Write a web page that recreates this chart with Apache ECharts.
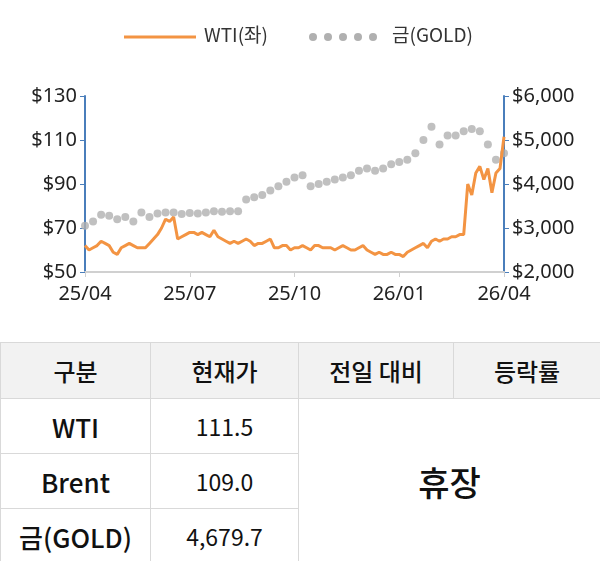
<!DOCTYPE html>
<html><head><meta charset="utf-8">
<script src="https://cdn.jsdelivr.net/npm/echarts@6/dist/echarts.min.js"></script>
<style>
body{margin:0;width:600px;height:561px;background:#fff;font-family:"Noto Sans CJK KR","Noto Sans",sans-serif;overflow:hidden}
#c{width:600px;height:330px}
table{position:absolute;top:342px;left:0;width:600px;border-collapse:collapse;table-layout:fixed}
td,th{border:1.5px solid #d9d9d9;text-align:center;color:#111;padding:0}
th{background:#f2f2f2;height:55px;font-size:24px;font-weight:500}
td{height:54px;font-size:23px;font-weight:400}
td.b{font-weight:500;font-size:26px}
</style></head><body>
<div id="c"></div>
<table>
<colgroup><col style="width:150px"><col style="width:148px"><col style="width:155px"><col style="width:147px"></colgroup>
<tr><th>구분</th><th>현재가</th><th>전일 대비</th><th>등락률</th></tr>
<tr><td class="b">WTI</td><td>111.5</td><td colspan="2" rowspan="3" style="font-size:34px;font-weight:500">휴장</td></tr>
<tr><td class="b">Brent</td><td>109.0</td></tr>
<tr><td class="b">금(GOLD)</td><td>4,679.7</td></tr>
</table>
<script>
const xLabels=['25/04','25/07','25/10','26/01','26/04'];
const wtiValues=[62,60,61,62,64,63,62,59,58,61,62,63,
62,61,61,61,63,65,67,70,
74,73,75,65,
66,67,68,68,67,68,67,66,69,66,
65,64,63,64,63,64,65,64,62,63,63,64,
65,61,61,62,62,60,61,61,
62,61,60,62,62,61,61,61,60,61,62,61,
60,60,61,62,60,59,58,59,58,58,59,58,
58,57,59,60,61,62,63,61,
64,65,64,65,65,66,66,67,
67,90,85,95,98,92,97,86,95,97,111.5];
const goldValues=[3050,3150,3300,3280,3200,3250,3150,3350,3250,3330,3350,3350,3320,3340,3330,3350,3380,3370,3380,3380,3650,3700,3750,3850,3950,4050,4150,4200,3950,4000,4050,4100,4150,4200,4300,4350,4300,4350,4450,4500,4550,4700,5000,5300,4900,5100,5100,5200,5250,5200,4900,4550,4700];
const wti=wtiValues.map((v,i)=>[i*0.5,v]);
const gold=goldValues.map((v,i)=>[i,v]);
const lab={color:'#222',fontSize:20,fontFamily:'Noto Sans'};
const dots=[0,1,2,3,4].map(k=>({type:'circle',shape:{cx:313+k*15,cy:37,r:4},style:{fill:'#b0b0b0'}}));
const ch=echarts.init(document.getElementById('c'));
ch.setOption({
 animation:false,
 graphic:[
  {type:'line',shape:{x1:124,y1:37,x2:196,y2:37},style:{stroke:'#f39443',lineWidth:3}},
  {type:'text',left:204,top:25,style:{text:'WTI(좌)',fontSize:19,fill:'#333',fontFamily:'Noto Sans CJK KR'}},
  ...dots,
  {type:'text',left:392,top:25,style:{text:'금(GOLD)',fontSize:19,fill:'#333',fontFamily:'Noto Sans CJK KR'}}
 ],
 grid:{left:85,right:96,top:96,bottom:58},
 xAxis:{type:'value',min:0,max:52,interval:13,axisLine:{lineStyle:{color:'#d0d0d0',width:2}},axisTick:{show:true,lineStyle:{color:'#d0d0d0'}},splitLine:{show:false},
  axisLabel:Object.assign({},lab,{margin:12,formatter:v=>xLabels[Math.round(v/13)]})},
 yAxis:[{type:'value',min:50,max:130,interval:20,axisLine:{show:true,lineStyle:{color:'#4a7ebb',width:2}},axisTick:{show:true,lineStyle:{color:'#4a7ebb'}},splitLine:{show:false},
   axisLabel:Object.assign({},lab,{formatter:v=>'$'+v})},
  {type:'value',min:2000,max:6000,interval:1000,position:'right',axisLine:{show:true,lineStyle:{color:'#4a7ebb',width:2}},axisTick:{show:true,lineStyle:{color:'#4a7ebb'}},splitLine:{show:false},
   axisLabel:Object.assign({},lab,{formatter:v=>'$'+v.toLocaleString('en-US')})}],
 series:[
  {name:'금(GOLD)',type:'scatter',yAxisIndex:1,data:gold,symbolSize:8,itemStyle:{color:'#b0b0b0'}},
  {name:'WTI(좌)',type:'line',data:wti,showSymbol:false,lineStyle:{color:'#f39443',width:3},itemStyle:{color:'#f39443'}}
 ]
});
</script></body></html>
